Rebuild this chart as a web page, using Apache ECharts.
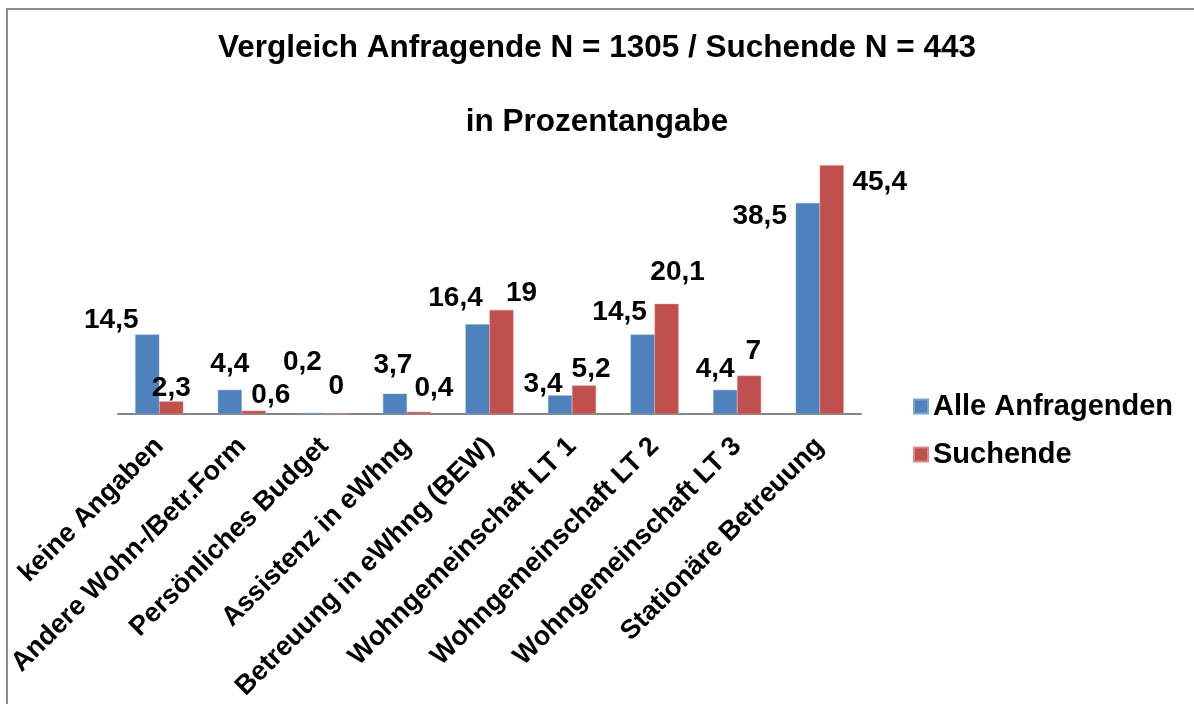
<!DOCTYPE html>
<html>
<head>
<meta charset="utf-8">
<script src="https://cdn.jsdelivr.net/npm/echarts@6/dist/echarts.min.js"></script>
<style>
  html, body { margin: 0; padding: 0; background: #fff; }
  #chart { width: 1194px; height: 704px; }
</style>
</head>
<body>
<div id="chart"></div>
<script>
const categories = ['keine Angaben', 'Andere Wohn-/Betr.Form', 'Persönliches Budget', 'Assistenz in eWhng',
    'Betreuung in eWhng (BEW)', 'Wohngemeinschaft LT 1', 'Wohngemeinschaft LT 2', 'Wohngemeinschaft LT 3',
    'Stationäre Betreuung']
const alleAnfragenden = [14.5, 4.4, 0.2, 3.7, 16.4, 3.4, 14.5, 4.4, 38.5]
const suchende = [2.3, 0.6, 0, 0.4, 19, 5.2, 20.1, 7, 45.4]

// labels were moved by hand in the original, so nudge each one
const blueLabelShift = [[-36, 5], [0, -7], [-10, -32], [-2, -9], [-22, -7], [-17, 8], [-23, -3], [-10, -2], [-48, 32]]
const redLabelShift = [[0, 6], [17, 4], [0, -8], [15, -5], [20, 2], [7, 3], [11, -13], [4, -5], [48, 36]]

const font = '"Liberation Sans", Arial, sans-serif'
const fmt = p => String(p.value).replace('.', ',')

const labelStyle = {
    show: true,
    position: 'top',
    formatter: fmt,
    fontFamily: font,
    fontWeight: 'bold',
    fontSize: 28,
    color: '#000'
}
const withShift = (values, shifts) => values.map((v, i) => ({
    value: v,
    label: {offset: shifts[i]}
}))

const chart = echarts.init(document.getElementById('chart'))
chart.setOption({
    backgroundColor: '#fff',
    animation: false,
    graphic: [{
        type: 'rect',
        shape: {x: 7, y: 9, width: 1200, height: 800},
        style: {fill: 'none', stroke: '#8c8c8c', lineWidth: 2},
        z: 100
    }],
    title: {
        text: 'Vergleich Anfragende N = 1305 / Suchende N = 443\n\nin Prozentangabe',
        left: 'center',
        top: 25,
        textStyle: {
            fontFamily: font,
            fontWeight: 'bold',
            fontSize: 31.5,
            lineHeight: 37,
            color: '#000'
        }
    },
    legend: {
        orient: 'vertical',
        left: 908,
        top: 387,
        itemWidth: 14,
        itemHeight: 14,
        itemGap: 19,
        icon: 'rect',
        textStyle: {fontFamily: font, fontWeight: 'bold', fontSize: 29, color: '#000'}
    },
    grid: {left: 118, right: 333, top: 140, bottom: 290},
    xAxis: {
        type: 'category',
        data: categories,
        axisLine: {lineStyle: {color: '#868686', width: 2}},
        axisTick: {length: 8, lineStyle: {color: '#868686', width: 2}},
        axisLabel: {
            interval: 0,
            rotate: 45,
            margin: 28,
            fontFamily: font,
            fontWeight: 'bold',
            fontSize: 27,
            color: '#000'
        }
    },
    yAxis: {
        type: 'value',
        min: 0,
        max: 50,
        show: false
    },
    series: [
        {
            name: 'Alle Anfragenden',
            type: 'bar',
            data: withShift(alleAnfragenden, blueLabelShift),
            barWidth: 24,
            barGap: 0,
            itemStyle: {color: '#4f81bd', borderColor: '#7fa3d0', borderWidth: 0.5},
            label: labelStyle
        },
        {
            name: 'Suchende',
            type: 'bar',
            data: withShift(suchende, redLabelShift),
            barWidth: 24,
            barGap: 0,
            itemStyle: {color: '#c0504d', borderColor: '#d98a88', borderWidth: 0.5},
            label: labelStyle
        }
    ]
})
</script>
</body>
</html>
